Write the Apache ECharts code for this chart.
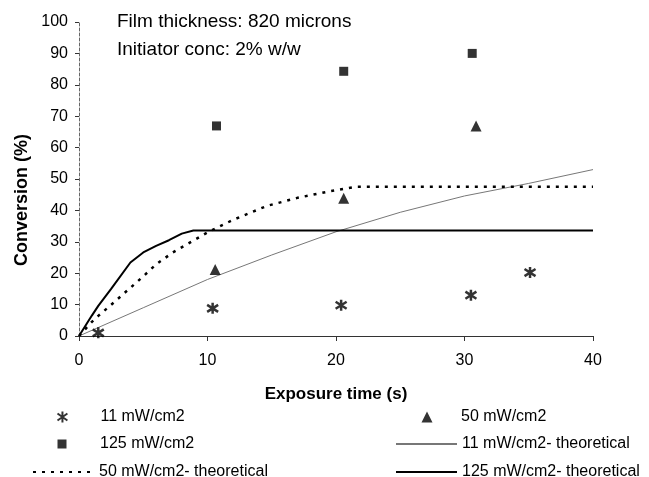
<!DOCTYPE html>
<html>
<head>
<meta charset="utf-8">
<script src="https://cdn.jsdelivr.net/npm/echarts@6/dist/echarts.min.js"></script>
<style>
  html, body { margin: 0; padding: 0; background: #fff; }
  #chart { width: 649px; height: 477px; }
</style>
</head>
<body>
<div id="chart"></div>
<script>
// measured points
var exp11X = [1.5, 10.4, 20.4, 30.5, 35.1];
var exp11Y = [1, 8.8, 9.8, 13, 20.2];
var exp50X = [10.6, 20.6, 30.9];
var exp50Y = [21.2, 43.9, 66.9];
var exp125X = [10.7, 20.6, 30.6];
var exp125Y = [66.9, 84.3, 90];

// theoretical curves
var th11X = [0, 5, 10, 15, 20, 25, 30, 35, 40];
var th11Y = [0, 9, 18, 25.8, 33.2, 39.4, 44.6, 48.6, 53];
var th50X = [0, 1, 1.5, 2.8, 5, 6, 7.3, 10, 12, 14.6, 17, 19.4, 21.5, 40];
var th50Y = [0, 4.5, 6.4, 11, 19, 22.8, 26.6, 33, 37, 41.4, 44, 46, 47.5, 47.5];
var th125X = [0, 1, 1.5, 2.5, 4, 5, 6, 7, 8, 8.9, 40];
var th125Y = [0, 6.5, 9.6, 15, 23.4, 26.6, 28.7, 30.5, 32.6, 33.6, 33.6];

var xTicks = [0, 10, 20, 30, 40];
var yTicks = [0, 10, 20, 30, 40, 50, 60, 70, 80, 90, 100];

var FONT = "'Liberation Sans', Arial, sans-serif";
var asterisk = 'path://M5,0 L5,10 M0.5,1.8 L9.5,8.2 M0.5,8.2 L9.5,1.8';

function pairs(xs, ys) {
    return xs.map(function (x, i) { return [x, ys[i]]; });
}

// one legend per entry so each can sit where the original put it
function markLegend(name, centerX, centerY, size, textX) {
    var left = centerX - size / 2;
    return {
        data: [name],
        left: left,
        top: centerY - 6,
        padding: 0,
        itemWidth: size,
        itemHeight: size,
        selectedMode: false,
        textStyle: { fontFamily: FONT, fontSize: 16, color: '#000',
                     padding: [0, 0, 0, textX - (left + size + 5)] }
    };
}

function lineLegend(name, left, right, centerY) {
    return {
        data: [name],
        left: left,
        top: centerY - 6,
        padding: 0,
        itemWidth: right - left,
        itemHeight: 10,
        selectedMode: false,
        itemStyle: { color: 'rgba(0,0,0,0)', borderWidth: 0, borderColor: 'rgba(0,0,0,0)' },
        textStyle: { fontFamily: FONT, fontSize: 16, color: '#000' }
    };
}

var chart = echarts.init(document.getElementById('chart'));

chart.setOption({
    animation: false,
    backgroundColor: '#fff',
    grid: { left: 79, right: 56, top: 22, bottom: 141 },
    xAxis: {
        type: 'value',
        min: 0, max: 40, interval: 10,
        name: 'Exposure time (s)',
        nameLocation: 'middle',
        nameGap: 50,
        nameTextStyle: { fontFamily: FONT, fontSize: 17, fontWeight: 'bold', color: '#000' },
        axisLine: { lineStyle: { color: '#333', width: 1 } },
        axisTick: { show: true, length: 5, lineStyle: { color: '#333' } },
        axisLabel: { margin: 17, fontFamily: FONT, fontSize: 16, color: '#000',
            formatter: function (v) { return xTicks.indexOf(v) >= 0 ? String(v) : ''; } },
        splitLine: { show: false }
    },
    yAxis: {
        type: 'value',
        min: 0, max: 100, interval: 10,
        axisLine: { show: true, lineStyle: { color: '#666', width: 1, type: [3, 2] } },
        axisTick: { show: true, length: 4, lineStyle: { color: '#333' } },
        axisLabel: { margin: 11, fontFamily: FONT, fontSize: 16, color: '#000',
            formatter: function (v) { return yTicks.indexOf(v) >= 0 ? String(v) : ''; } },
        splitLine: { show: false }
    },
    graphic: [
        { type: 'text', left: 117, top: 12,
          style: { text: 'Film thickness: 820 microns', fontFamily: FONT, fontSize: 19, fill: '#000' } },
        { type: 'text', left: 117, top: 40,
          style: { text: 'Initiator conc: 2% w/w', fontFamily: FONT, fontSize: 19, fill: '#000' } },
        { type: 'text', x: 22, y: 200, rotation: Math.PI / 2,
          style: { text: 'Conversion (%)', fontFamily: FONT, fontSize: 18, fontWeight: 'bold',
                   fill: '#000', align: 'center', verticalAlign: 'middle' } }
    ],
    legend: [
        markLegend('11 mW/cm2', 62, 415, 11, 100),
        markLegend('50 mW/cm2', 427, 415, 11, 461),
        markLegend('125 mW/cm2', 62, 442, 9, 100),
        lineLegend('11 mW/cm2- theoretical', 395, 456, 442),
        lineLegend('50 mW/cm2- theoretical', 32, 93, 470),
        lineLegend('125 mW/cm2- theoretical', 395, 456, 470)
    ],
    series: [
        {
            name: '11 mW/cm2- theoretical',
            type: 'line',
            data: pairs(th11X, th11Y),
            symbol: 'none',
            lineStyle: { color: '#777', width: 1 },
            itemStyle: { color: '#777' },
            z: 2
        },
        {
            name: '50 mW/cm2- theoretical',
            type: 'line',
            data: pairs(th50X, th50Y),
            symbol: 'none',
            lineStyle: { color: '#000', width: 2.5, type: [3, 6] },
            itemStyle: { color: '#000' },
            z: 2
        },
        {
            name: '125 mW/cm2- theoretical',
            type: 'line',
            data: pairs(th125X, th125Y),
            symbol: 'none',
            lineStyle: { color: '#000', width: 2 },
            itemStyle: { color: '#000' },
            z: 2
        },
        {
            name: '11 mW/cm2',
            type: 'scatter',
            data: pairs(exp11X, exp11Y),
            symbol: asterisk,
            symbolSize: 11,
            itemStyle: { color: 'rgba(0,0,0,0)', borderColor: '#000', borderWidth: 2.5 },
            z: 3
        },
        {
            name: '50 mW/cm2',
            type: 'scatter',
            data: pairs(exp50X, exp50Y),
            symbol: 'triangle',
            symbolSize: 11,
            itemStyle: { color: '#000' },
            z: 3
        },
        {
            name: '125 mW/cm2',
            type: 'scatter',
            data: pairs(exp125X, exp125Y),
            symbol: 'rect',
            symbolSize: 9,
            itemStyle: { color: '#000' },
            z: 3
        }
    ]
});
</script>
</body>
</html>
